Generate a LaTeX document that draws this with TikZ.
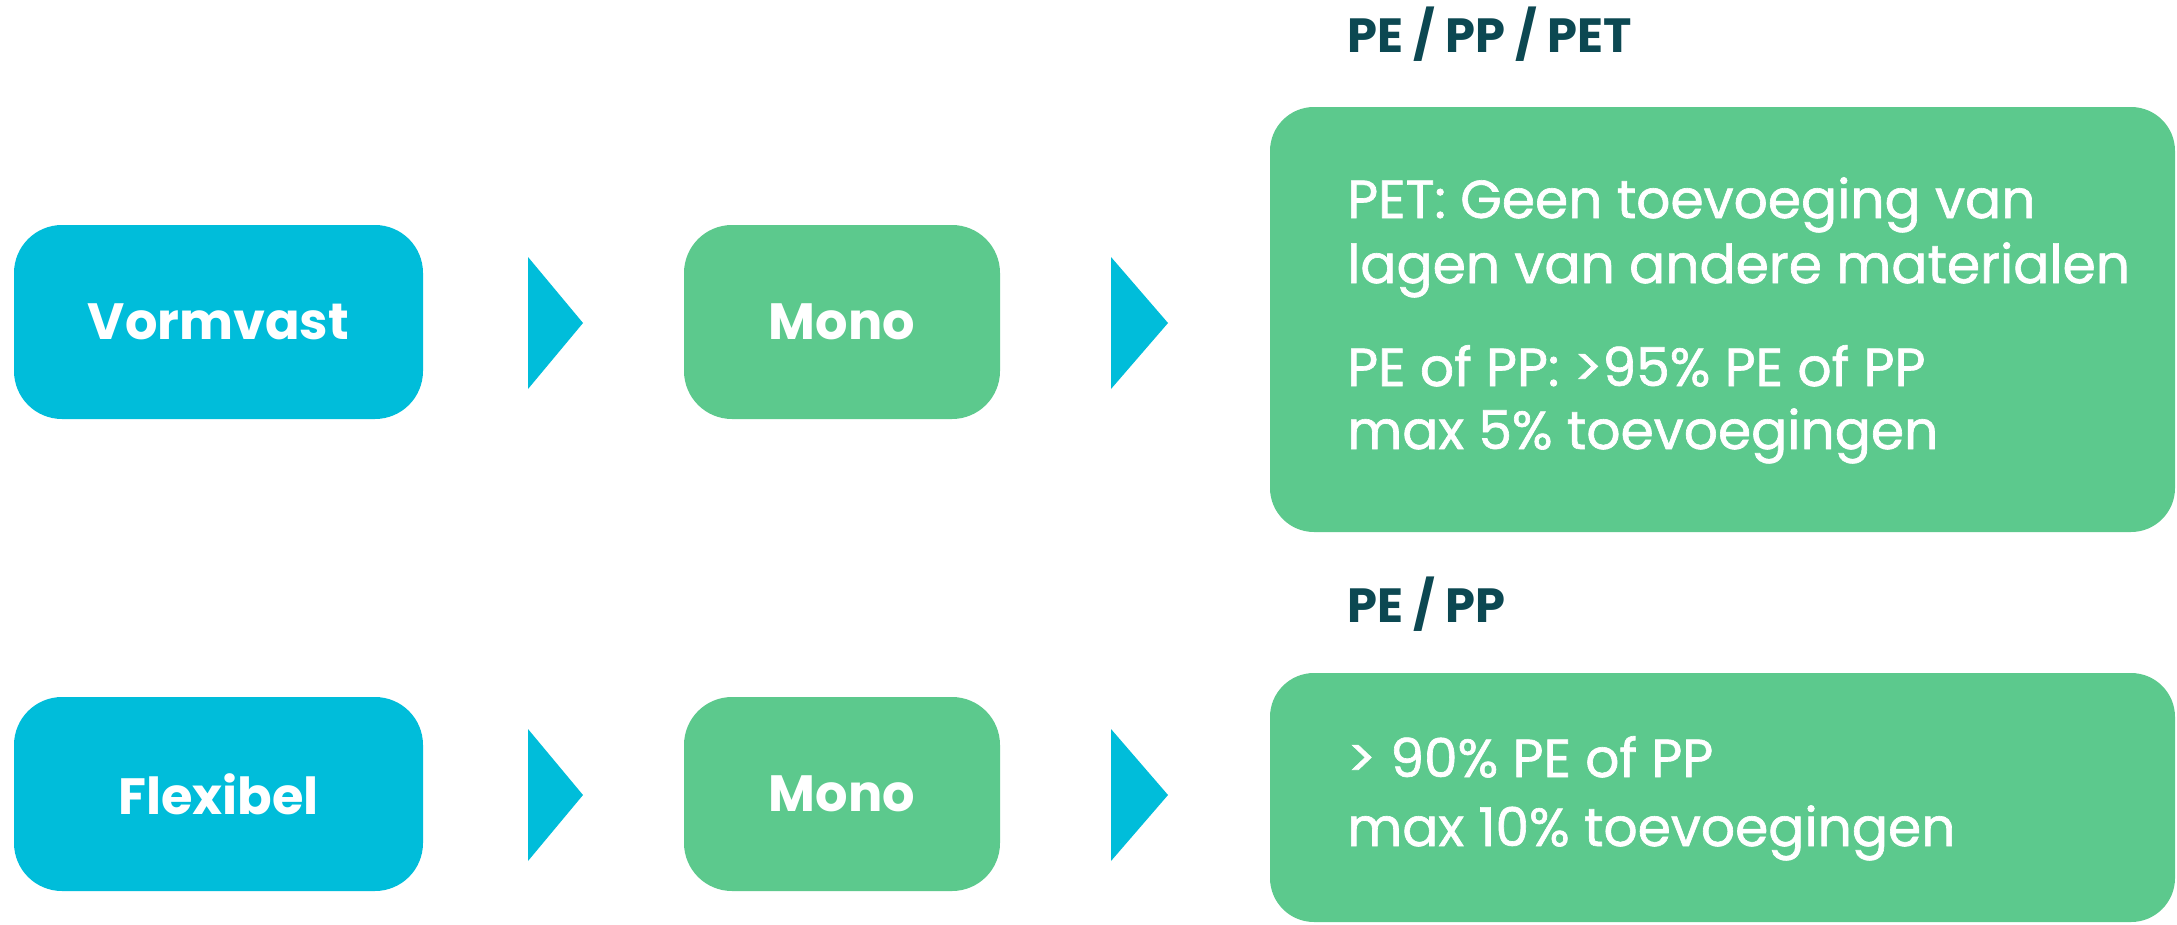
\documentclass[tikz,border=0pt]{standalone}
\usepackage{fontspec}
\setmainfont{Poppins}
\newfontfamily\bodyfont{Poppins}[FakeBold=1.2]
\definecolor{kcyan}{RGB}{0,189,218}
\definecolor{kgreen}{RGB}{92,201,141}
\definecolor{kdark}{RGB}{12,72,82}
\tikzset{
  catbox/.style={fill=kcyan, rounded corners=48, minimum width=409, minimum height=194, inner sep=0, text=white, font=\fontsize{51}{56}\selectfont\bfseries},
  monobox/.style={fill=kgreen, rounded corners=48, minimum width=316, minimum height=194, inner sep=0, text=white, font=\fontsize{51}{56}\selectfont\bfseries},
  bigbox/.style={fill=kgreen, rounded corners=44, inner sep=0},
  bodytxt/.style={anchor=base west, inner sep=0, text=white, font=\bodyfont\fontsize{53.5}{60}\selectfont},
  headtxt/.style={anchor=base west, inner sep=0, text=kdark, font=\fontsize{48}{54}\selectfont\bfseries},
  chev/.style={fill=kcyan}
}
\begin{document}
\begin{tikzpicture}[x=1pt,y=-1pt]
\useasboundingbox (0,0) rectangle (2177,924);
\fill[white] (0,0) rectangle (2177,924);
% row 1
\node[catbox] (vorm) at (218.5,322) {Vormvast};
\node[monobox] (mono1) at (842,322) {Mono};
\fill[chev] (528,257) -- (583,323) -- (528,389) -- cycle;
\fill[chev] (1111,257) -- (1168,323) -- (1111,389) -- cycle;
\node[headtxt] (h1) at (1347,52) {PE / PP / PET};
\node[bigbox, minimum width=905, minimum height=425] (big1) at (1722.5,319.5) {};
\node[bodytxt] (t1) at (1347,218) {PET: Geen toevoeging van};
\node[bodytxt] (t2) at (1347,283) {lagen van andere materialen};
\node[bodytxt] (t3) at (1347,386) {PE of PP: >95\% PE of PP};
\node[bodytxt] (t4) at (1347,449) {max 5\% toevoegingen};
% row 2
\node[catbox] (flex) at (218.5,794) {Flexibel};
\node[monobox] (mono2) at (842,794) {Mono};
\fill[chev] (528,729) -- (583,795) -- (528,861) -- cycle;
\fill[chev] (1111,729) -- (1168,795) -- (1111,861) -- cycle;
\node[headtxt] (h2) at (1347,622) {PE / PP};
\node[bigbox, minimum width=905, minimum height=249] (big2) at (1722.5,797.5) {};
\node[bodytxt] (t5) at (1347,777) {> 90\% PE of PP};
\node[bodytxt] (t6) at (1347,846) {max 10\% toevoegingen};
\end{tikzpicture}
\end{document}
